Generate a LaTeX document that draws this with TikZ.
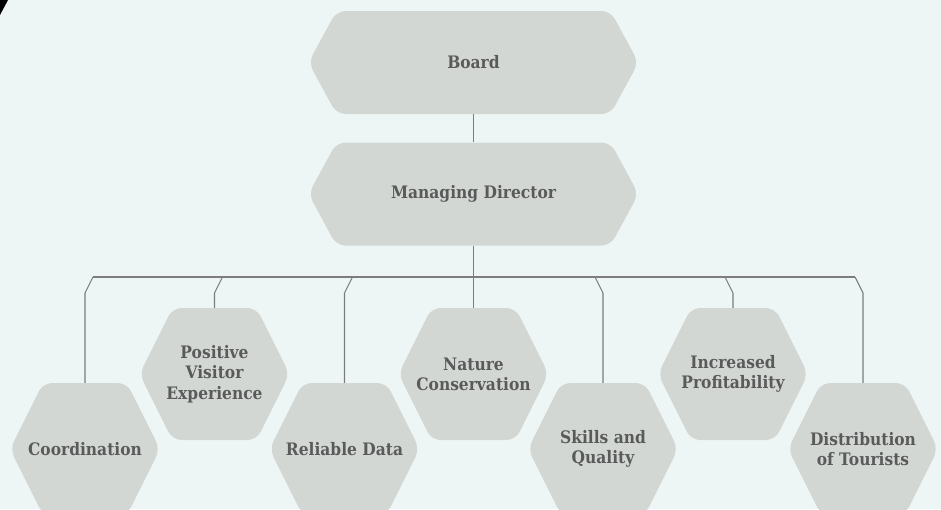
\documentclass[tikz,border=0pt]{standalone}
\usepackage{fontspec}
\setmainfont{DejaVu Serif}[FakeStretch=0.9]
\usetikzlibrary{calc}
\definecolor{bgcol}{HTML}{EEF6F5}
\definecolor{hexcol}{HTML}{D3D7D4}
\definecolor{txtcol}{HTML}{5A5A5A}
\definecolor{linecol}{HTML}{7C7C7C}
\tikzset{
  hexfill/.style={fill=hexcol, rounded corners=9pt},
  hextext/.style={text=txtcol, font=\bfseries\fontsize{17.2}{20.3}\selectfont, align=center, inner sep=0pt},
  conn/.style={draw=linecol, line width=1.1pt},
}
\newcommand\hexnode[7]{%
  \fill[hexfill] (#2-#4,#3) -- (#2-#4+#6,#3-#5) -- (#2+#4-#6,#3-#5) -- (#2+#4,#3) -- (#2+#4-#6,#3+#5) -- (#2-#4+#6,#3+#5) -- cycle;
  \node[hextext, minimum width=2*#4, minimum height=2*#5] (#1) at (#2,#3) {#7};
}
\begin{document}
\begin{tikzpicture}[x=1pt,y=-1pt]
\useasboundingbox (0,0) rectangle (941,509);
\fill[bgcol] (0,0) rectangle (941,509);
\clip (0,0) rectangle (941,509);
\fill[black] (0,0) -- (8,0) -- (0,15) -- cycle;

\hexnode{board}{473.5}{62.5}{165}{51.5}{28}{Board}
\hexnode{md}{473.5}{194}{165}{51.5}{28}{Managing Director}

\hexnode{c1}{85}{449}{75}{66}{33}{Coordination}
\hexnode{c2}{214.5}{374}{75}{66}{33}{Positive\\Visitor\\Experience}
\hexnode{c3}{344.5}{449}{75}{66}{33}{Reliable Data}
\hexnode{c4}{473.5}{374}{75}{66}{33}{Nature\\Conservation}
\hexnode{c5}{603}{449}{75}{66}{33}{Skills and\\Quality}
\hexnode{c6}{733}{374}{75}{66}{33}{Increased\\Profitability}
\hexnode{c7}{863}{449}{75}{66}{33}{Distribution\\of Tourists}

\coordinate (hub) at (473.5,277);
\coordinate (b1) at (93,277);
\coordinate (b2) at (222.5,277);
\coordinate (b3) at (352.5,277);
\coordinate (b5) at (595,277);
\coordinate (b6) at (725,277);
\coordinate (b7) at (855,277);

\draw[conn] (board.south) -- (md.north);
\draw[conn] (md.south) -- (c4.north);
\draw[conn] (b1) -- (b7);
\foreach \i in {1,2,3,5,6,7}{
  \draw[conn] (b\i) -- (c\i.north |- 0,293) -- (c\i.north);
}
\end{tikzpicture}
\end{document}
